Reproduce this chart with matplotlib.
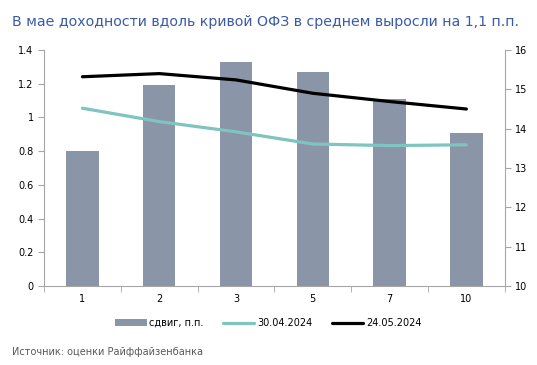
import matplotlib
matplotlib.use("Agg")
import matplotlib.pyplot as plt
import numpy as np

categories = ["1", "2", "3", "5", "7", "10"]
shift = [0.80, 1.19, 1.33, 1.27, 1.11, 0.91]
y_0430 = [14.52, 14.18, 13.92, 13.61, 13.57, 13.59]
y_0524 = [15.32, 15.40, 15.24, 14.90, 14.69, 14.50]

plt.rcParams['font.family'] = ['DejaVu Sans']
fig = plt.figure(figsize=(5.37, 3.65), dpi=100)
ax = fig.add_axes([0.082, 0.2164, 0.858, 0.6466])
ax2 = ax.twinx()

x = np.arange(len(categories))
bar_col = "#8A95A7"
axis_col = "#A6A6A6"
ax.bar(x, shift, width=0.42, color=bar_col, label="сдвиг, п.п.", zorder=2)
ax2.plot(x, y_0430, color="#7FC4C0", lw=2.3, label="30.04.2024", solid_capstyle='round')
ax2.plot(x, y_0524, color="#000000", lw=2.3, label="24.05.2024", solid_capstyle='round')

ax.set_xlim(-0.5, len(categories) - 0.5)
ax.set_ylim(0, 1.4)
ax.set_yticks(np.arange(0, 1.41, 0.2))
ax.set_yticklabels(["0", "0.2", "0.4", "0.6", "0.8", "1", "1.2", "1.4"])
ax2.set_ylim(10, 16)
ax2.set_yticks(range(10, 17))

ax.set_xticks(x)
ax.set_xticklabels(categories)
ax.set_xticks(np.arange(-0.5, len(categories), 1), minor=True)
ax.tick_params(axis='x', which='major', length=0, labelsize=7, colors="#000000", pad=6)
ax.tick_params(axis='x', which='minor', length=4, color=axis_col, direction='out')
ax.tick_params(axis='y', length=4, color=axis_col, labelsize=7, labelcolor="#000000")
ax2.tick_params(axis='y', length=4, color=axis_col, labelsize=7, labelcolor="#000000")

for a in (ax, ax2):
    a.spines['top'].set_visible(False)
    for s in ('left', 'right', 'bottom'):
        a.spines[s].set_color(axis_col)
ax.spines['right'].set_visible(False)
ax2.spines['left'].set_visible(False)
ax2.spines['bottom'].set_visible(False)

fig.text(0.022, 0.94, "В мае доходности вдоль кривой ОФЗ в среднем выросли на 1,1 п.п.",
         color="#3B5BA5", fontsize=10.2, va='center', ha='left')

h1, l1 = ax.get_legend_handles_labels()
h2, l2 = ax2.get_legend_handles_labels()
fig.legend(h1 + h2, l1 + l2, loc='center', bbox_to_anchor=(0.5, 0.115), ncol=3,
           frameon=False, fontsize=7, handlelength=3.2, handletextpad=0.3, columnspacing=2.0)

fig.text(0.022, 0.035, "Источник: оценки Райффайзенбанка", color="#595959", fontsize=7,
         ha='left', va='center')

fig.savefig("out.png", dpi=100)
